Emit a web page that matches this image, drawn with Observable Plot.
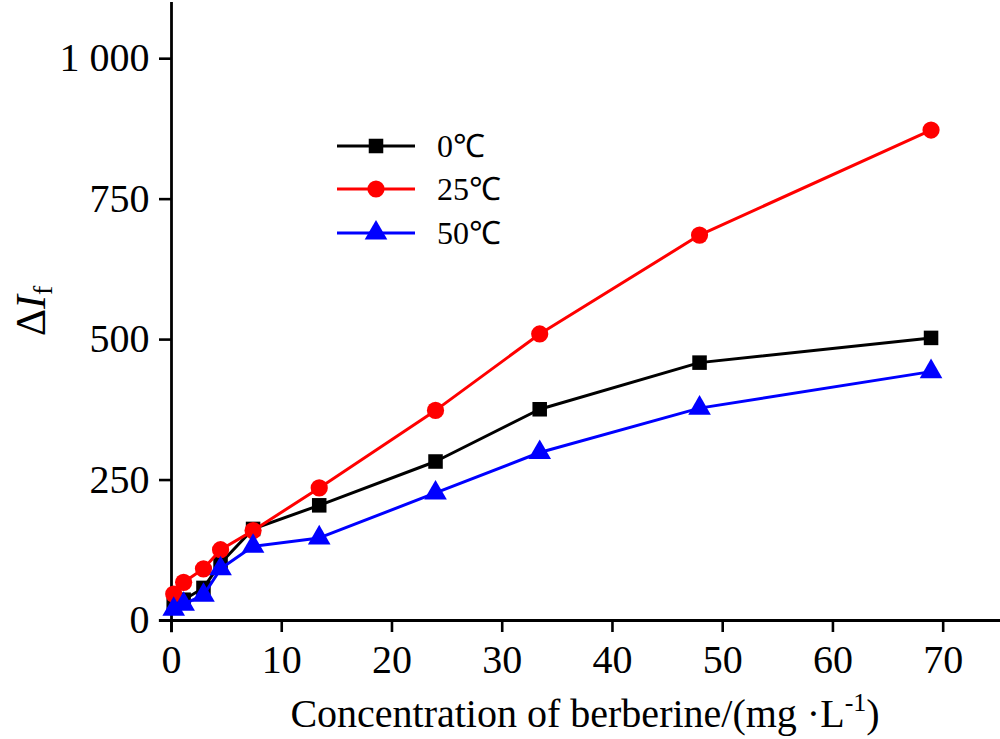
<!DOCTYPE html>
<html>
<head>
<meta charset="utf-8">
<script src="https://cdn.jsdelivr.net/npm/d3@7"></script>
<script src="https://cdn.jsdelivr.net/npm/@observablehq/plot@0.6"></script>
<style>
  html, body { margin: 0; padding: 0; background: #fff; }
  #chart { position: relative; width: 1000px; height: 739px; }
  #chart svg text { font-family: "Liberation Serif", "Times New Roman", serif !important; font-variant: normal !important; }
</style>
</head>
<body>
<div id="chart"></div>
<script>
// Concentration of berberine (mg/L)
const concentration = [0.2, 1.1, 2.9, 4.45, 7.4, 13.4, 23.95, 33.4, 47.9, 68.9];
// ΔIf values per temperature
const series0C  = [27, 37, 58, 102, 163, 205, 283, 376, 459, 503];
const series25C = [47, 68, 92, 126, 160, 236, 374, 510, 686, 873];
const series50C = [20, 29, 45, 92, 132, 147, 227, 299, 378, 443];
const seriesNames = ["0℃", "25℃", "50℃"];
const seriesColors = ["#000000", "#ff0000", "#0000ff"];
const seriesSymbols = ["square", "circle", "triangle"];
const seriesR = [8.2, 8.6, 8.4];
const xTicks = [0, 10, 20, 30, 40, 50, 60, 70];
const yTicks = [0, 250, 500, 750, 1000];
const yTickLabels = ["0", "250", "500", "750", "1 000"];

const allValues = [series0C, series25C, series50C];
const tables = allValues.map((vals, i) =>
  concentration.map((c, j) => ({x: c, y: vals[j], s: seriesNames[i]}))
);

const font = '"Liberation Serif", "Times New Roman", serif';

const marks = [
  Plot.ruleX([0], {y1: -22, y2: 1100, stroke: "#000", strokeWidth: 2.8}),
  Plot.ruleY([0], {x1: -1.1, x2: 75.2, stroke: "#000", strokeWidth: 2.8}),
  Plot.axisX({ticks: xTicks, tickSize: 12, tickPadding: 12, fontSize: 40, strokeWidth: 2.6, label: null, tickFormat: d => String(d)}),
  Plot.axisY({ticks: yTicks, tickSize: 12, tickPadding: 10, fontSize: 40, strokeWidth: 2.6, label: null,
              tickFormat: d => yTickLabels[yTicks.indexOf(d)]})
];
tables.forEach((t, i) => {
  marks.push(Plot.line(t, {x: "x", y: "y", stroke: seriesColors[i], strokeWidth: 3}));
  marks.push(Plot.dot(t, {x: "x", y: "y", symbol: () => seriesSymbols[i], r: seriesR[i], fill: seriesColors[i], stroke: "none"}));
});

const plot = Plot.plot({
  width: 1000,
  height: 739,
  marginLeft: 171,
  marginRight: 0,
  marginTop: 2,
  marginBottom: 119,
  style: {fontFamily: font, background: "#fff", overflow: "visible"},
  x: {domain: [0, 75.2]},
  y: {domain: [0, 1100]},
  symbol: {type: "identity"},
  marks
});

document.getElementById("chart").appendChild(plot);

const svg = d3.select(plot);
svg.selectAll("text").attr("fill", "#000").attr("font-variant", null).style("font-family", font);

// X axis label
const xl = svg.append("text")
  .attr("x", 585).attr("y", 727)
  .attr("text-anchor", "middle")
  .attr("font-size", 40).attr("fill", "#000").style("font-family", font);
xl.append("tspan").text("Concentration of berberine/(mg ·L");
xl.append("tspan").attr("font-size", 26).attr("dy", -16).text("-1");
xl.append("tspan").attr("dy", 16).text(")");

// Y axis label
const yl = svg.append("text")
  .attr("transform", "translate(45,336) rotate(-90)")
  .attr("text-anchor", "start")
  .attr("font-size", 42).attr("fill", "#000").style("font-family", font);
yl.append("tspan").text("Δ");
yl.append("tspan").attr("font-style", "italic").text("I");
yl.append("tspan").attr("font-size", 28).attr("dy", 7).text("f");

// Legend
const legendRows = [146, 189, 233];
const lg = svg.append("g");
seriesNames.forEach((name, i) => {
  const yy = legendRows[i];
  lg.append("line").attr("x1", 337).attr("x2", 415).attr("y1", yy).attr("y2", yy)
    .attr("stroke", seriesColors[i]).attr("stroke-width", 3);
  const symType = {square: d3.symbolSquare, circle: d3.symbolCircle, triangle: d3.symbolTriangle}[seriesSymbols[i]];
  lg.append("path")
    .attr("d", d3.symbol(symType, Math.PI * seriesR[i] * seriesR[i])())
    .attr("transform", `translate(376,${yy})`)
    .attr("fill", seriesColors[i]);
  lg.append("text").attr("x", 437).attr("y", yy + 11)
    .attr("text-anchor", "start")
    .attr("font-size", 32).attr("fill", "#000").style("font-family", font)
    .text(name);
});
</script>
</body>
</html>
